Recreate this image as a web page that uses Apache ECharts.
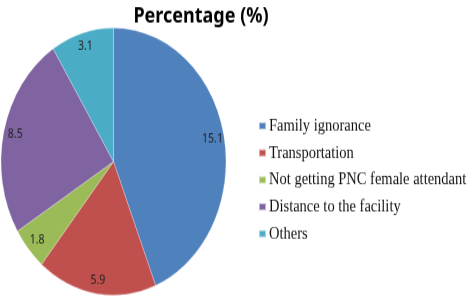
<!DOCTYPE html>
<html>
<head>
<meta charset="utf-8">
<script src="https://cdn.jsdelivr.net/npm/echarts@6/dist/echarts.min.js"></script>
<style>
  html, body { margin: 0; padding: 0; background: #fff; }
  body { width: 472px; height: 297px; overflow: hidden; }
  /* the original picture is stretched vertically, so the whole chart is too */
  #chart { width: 472px; height: 250px; transform: scaleY(1.188); transform-origin: 0 0; }
</style>
</head>
<body>
<div id="chart"></div>
<script>
const categories = ['Family ignorance', 'Transportation', 'Not getting PNC female attendant', 'Distance to the facility', 'Others']
const values = [15.1, 5.9, 1.8, 8.5, 3.1]
const colors = ['#4F81BD', '#C0504D', '#9BBB59', '#8064A2', '#4BACC6']

let pieData = categories.map((name, i) => ({name: name, value: values[i]}))

const R = 112.5
const center = [113.5, 136]

let option = {
  animation: false,
  color: colors,
  title: {
    text: 'Percentage (%)',
    left: 196,
    textAlign: 'center',
    top: 0,
    textStyle: {
      fontFamily: 'Noto Sans',
      fontWeight: 'bold',
      fontSize: 18,
      color: '#000'
    }
  },
  legend: {
    orient: 'vertical',
    left: 253,
    top: 93.5,
    itemWidth: 7,
    itemHeight: 6,
    itemGap: 7.7,
    icon: 'rect',
    data: categories,
    textStyle: {
      fontFamily: '"Liberation Serif", serif',
      fontSize: 14.5,
      lineHeight: 15,
      color: '#111',
      padding: [0, 0, 0, -2]
    }
  },
  series: [
    {
      type: 'pie',
      center: center,
      radius: [0, R],
      startAngle: 90,
      clockwise: true,
      data: pieData,
      label: {show: false},
      labelLine: {show: false},
      itemStyle: {borderColor: 'rgba(255,255,255,0.5)', borderWidth: 0.5},
      emphasis: {disabled: true}
    },
    {
      // transparent ring only used to put the value labels near the rim
      type: 'pie',
      center: center,
      radius: [R * 0.74, R],
      startAngle: 90,
      clockwise: true,
      silent: true,
      data: pieData,
      itemStyle: {color: 'rgba(0,0,0,0)'},
      label: {
        show: true,
        position: 'inside',
        formatter: '{c}',
        fontFamily: 'Noto Sans',
        fontSize: 10.5,
        color: '#222'
      },
      labelLine: {show: false},
      emphasis: {disabled: true}
    }
  ]
}

let chart = echarts.init(document.getElementById('chart'))
chart.setOption(option)
</script>
</body>
</html>
